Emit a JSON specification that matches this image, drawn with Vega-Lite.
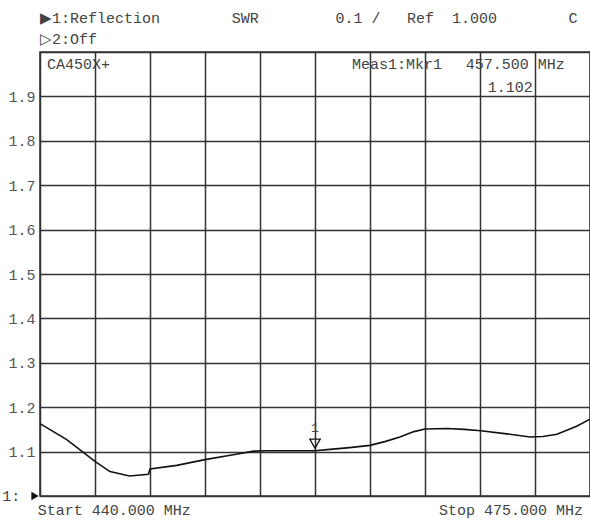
{
  "$schema": "https://vega.github.io/schema/vega-lite/v6.json",
  "width": 550,
  "height": 444,
  "autosize": {"type": "none"},
  "padding": {"left": 40, "top": 52, "right": 0, "bottom": 24},
  "background": "white",
  "config": {
    "view": {"stroke": "#333", "strokeWidth": 1.5},
    "text": {"font": "Liberation Mono", "fontSize": 15, "fill": "#444", "baseline": "middle"}
  },
  "datasets": {
    "trace": [
      {"f": 440.0, "swr": 1.163},
      {"f": 441.7, "swr": 1.127},
      {"f": 443.5, "swr": 1.078},
      {"f": 444.45, "swr": 1.055},
      {"f": 445.7, "swr": 1.045},
      {"f": 446.9, "swr": 1.049},
      {"f": 447.0, "swr": 1.061},
      {"f": 448.7, "swr": 1.069},
      {"f": 450.5, "swr": 1.082},
      {"f": 452.3, "swr": 1.093},
      {"f": 453.6, "swr": 1.101},
      {"f": 454.4, "swr": 1.102},
      {"f": 456.0, "swr": 1.102},
      {"f": 457.5, "swr": 1.102},
      {"f": 458.45, "swr": 1.105},
      {"f": 459.7, "swr": 1.109},
      {"f": 461.0, "swr": 1.114},
      {"f": 462.0, "swr": 1.123},
      {"f": 462.9, "swr": 1.133},
      {"f": 463.8, "swr": 1.145},
      {"f": 464.5, "swr": 1.151},
      {"f": 465.9, "swr": 1.152},
      {"f": 467.0, "swr": 1.150},
      {"f": 468.05, "swr": 1.147},
      {"f": 469.7, "swr": 1.140},
      {"f": 471.2, "swr": 1.133},
      {"f": 472.0, "swr": 1.134},
      {"f": 472.9, "swr": 1.139},
      {"f": 474.15, "swr": 1.157},
      {"f": 475.0, "swr": 1.173}
    ],
    "labelsLeft": [
      {"text": "▶1:Reflection", "f": 440.0, "swr": 2.077},
      {"text": "SWR", "f": 452.2, "swr": 2.077},
      {"text": "0.1 /", "f": 458.8, "swr": 2.077},
      {"text": "Ref\u00a0\u00a01.000", "f": 463.35, "swr": 2.077},
      {"text": "▷2:Off", "f": 440.0, "swr": 2.029},
      {"text": "CA450X+", "f": 440.45, "swr": 1.973},
      {"text": "Meas1:Mkr1", "f": 459.85, "swr": 1.973},
      {"text": "457.500 MHz", "f": 467.1, "swr": 1.973},
      {"text": "1.102", "f": 468.5, "swr": 1.921},
      {"text": "1:", "f": 437.6, "swr": 1.0},
      {"text": "Start 440.000 MHz", "f": 439.85, "swr": 0.9685}
    ],
    "labelsRight": [
      {"text": "C", "f": 474.2, "swr": 2.077},
      {"text": "Stop 475.000 MHz", "f": 474.55, "swr": 0.9685}
    ],
    "marker": [{"f": 457.5, "swr": 1.102, "text": "1"}],
    "origin": [{"f": 440.0, "swr": 1.0}]
  },
  "encoding": {
    "x": {
      "field": "f", "type": "quantitative",
      "scale": {"domain": [440, 475], "nice": false, "zero": false},
      "axis": {
        "values": [440, 443.5, 447, 450.5, 454, 457.5, 461, 464.5, 468, 471.5, 475],
        "labels": false, "ticks": false, "domain": false, "title": null,
        "grid": true, "gridColor": "#333", "gridWidth": 1.5, "gridOpacity": 1
      }
    },
    "y": {
      "field": "swr", "type": "quantitative",
      "scale": {"domain": [1, 2], "nice": false, "zero": false},
      "axis": {
        "values": [1, 1.1, 1.2, 1.3, 1.4, 1.5, 1.6, 1.7, 1.8, 1.9, 2],
        "labelExpr": "datum.value <= 1 || datum.value >= 2 ? '' : format(datum.value, '.1f')",
        "labelFont": "Liberation Mono", "labelFontSize": 15, "labelColor": "#555",
        "labelPadding": 5, "labelOverlap": false,
        "ticks": false, "domain": false, "title": null,
        "grid": true, "gridColor": "#333", "gridWidth": 1.5, "gridOpacity": 1
      }
    }
  },
  "layer": [
    {
      "data": {"name": "trace"},
      "mark": {"type": "line", "color": "#111", "strokeWidth": 1.6}
    },
    {
      "data": {"name": "marker"},
      "mark": {"type": "point", "shape": "triangle-down", "filled": false, "stroke": "#111", "strokeWidth": 1.3, "size": 110, "yOffset": -7, "opacity": 1}
    },
    {
      "data": {"name": "marker"},
      "mark": {"type": "text", "dy": -23, "align": "center", "fontSize": 13},
      "encoding": {"text": {"field": "text"}}
    },
    {
      "data": {"name": "origin"},
      "mark": {"type": "point", "shape": "triangle-right", "filled": true, "color": "#111", "size": 70, "xOffset": -5, "opacity": 1}
    },
    {
      "data": {"name": "labelsLeft"},
      "mark": {"type": "text", "align": "left"},
      "encoding": {"text": {"field": "text"}}
    },
    {
      "data": {"name": "labelsRight"},
      "mark": {"type": "text", "align": "right"},
      "encoding": {"text": {"field": "text"}}
    }
  ]
}
